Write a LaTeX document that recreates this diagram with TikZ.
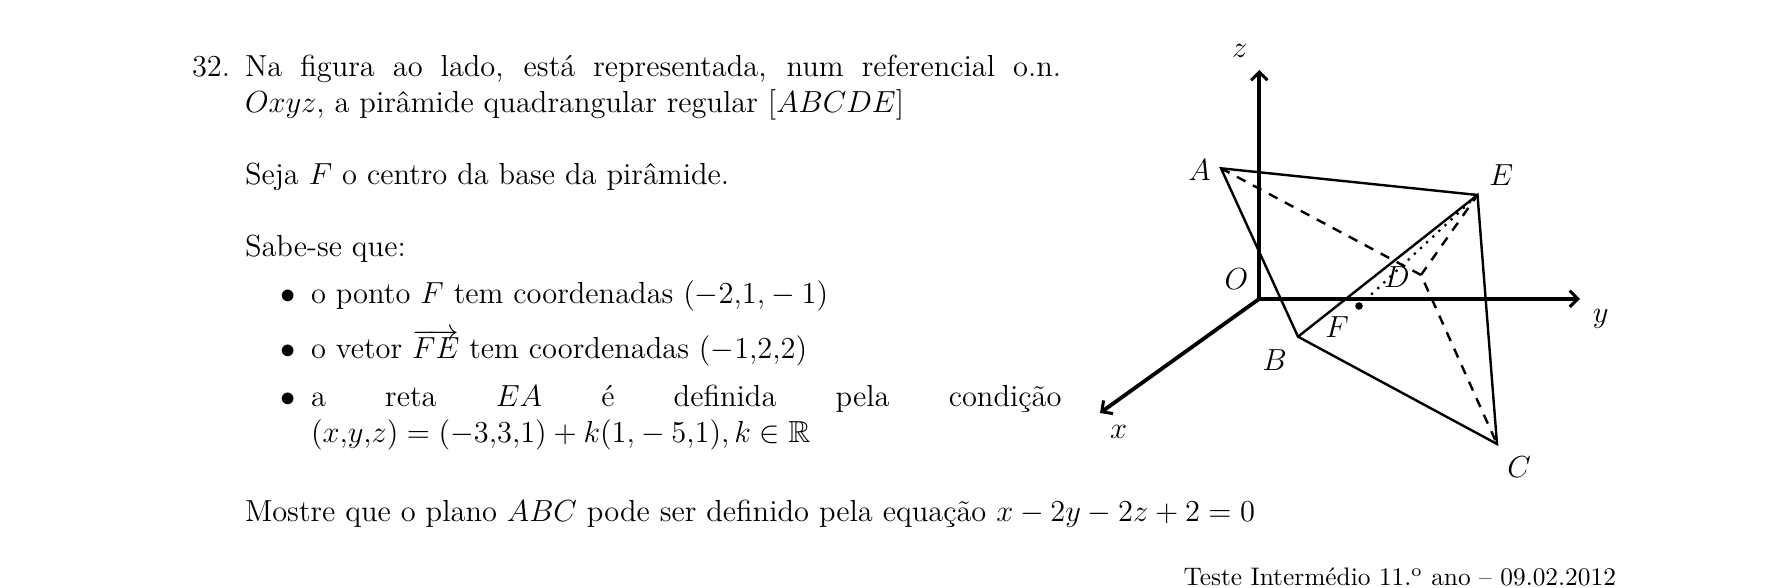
\documentclass[tikz,border=0pt]{standalone}
\usepackage{amssymb}
\usetikzlibrary{arrows.meta}
\tikzset{
  txt/.style={anchor=base west,inner sep=0pt,outer sep=0pt,font=\large},
  lbl/.style={inner sep=0pt,outer sep=0pt,font=\large},
  axisline/.style={line width=1.5pt,-{Straight Barb[length=3.2pt,width=6.4pt,line width=1.2pt]}},
  solidedge/.style={line width=0.95pt,line join=miter},
  hiddenedge/.style={line width=0.95pt,dash pattern=on 3.8pt off 3.33pt},
  hiddenedgegap/.style={line width=0.95pt,dash pattern=on 3.8pt off 3.33pt,dash phase=3.8pt},
  dotedge/.style={line width=0.9pt,dash pattern=on 0.9pt off 2.4pt},
}
\begin{document}
\begin{tikzpicture}[x=0.394pt,y=-0.394pt]
\useasboundingbox (0,0) rectangle (1785,588);
% text
\node[txt] (n32) at (192,77) {32.};
\node[txt] (l1) at (245,77) {\makebox[321.6pt][s]{Na figura ao lado, está representada, num referencial o.n.}};
\node[txt] (l2) at (245,113) {$Oxyz$, a pirâmide quadrangular regular $[ABCDE]$};
\node[txt] (l3) at (245,185) {Seja $F$ o centro da base da pirâmide.};
\node[txt] (l4) at (245,257) {Sabe-se que:};
\node[txt] (b1) at (280,304) {$\bullet$};
\node[txt] (t1) at (311,304) {o ponto $F$ tem coordenadas $(-2{,}1{,}\mkern3.8mu{-}\mkern3.8mu1)$};
\node[txt] (b2) at (280,359) {$\bullet$};
\node[txt] (t2) at (311,359) {o vetor $\overrightarrow{FE}$ tem coordenadas $(-1{,}2{,}2)$};
\node[txt] (b3) at (280,407) {$\bullet$};
\node[txt] (t3) at (311,407) {\makebox[295.7pt][s]{a reta $EA$ é definida pela condição}};
\node[txt] (t4) at (311,443) {$(x{,}y{,}z)=(-3{,}3{,}1)+k(1{,}\mkern3.8mu{-}\mkern3.8mu5{,}1),k\in\mathbb{R}$};
\node[txt] (l5) at (245,521.5) {Mostre que o plano $ABC$ pode ser definido pela equação $x-2y-2z+2=0$};
\node[txt,anchor=base east,font=\normalsize] (foot) at (1616,586) {Teste Intermédio 11.\textsuperscript{o} ano -- 09.02.2012};
% figure points
\coordinate (O) at (1259.3,298.8);
\coordinate (Z) at (1259.3,70);
\coordinate (Y) at (1580,298.8);
\coordinate (X) at (1100,413);
\coordinate (A) at (1221,168.3);
\coordinate (B) at (1298,336.7);
\coordinate (C) at (1497,444);
\coordinate (D) at (1421,275);
\coordinate (E) at (1477.5,195);
\coordinate (F) at (1359,306);
% axes
\draw[axisline] (O) -- (Z);
\draw[axisline] (O) -- (Y);
\draw[axisline] (O) -- (X);
% pyramid
\draw[solidedge] (E) -- (A) -- (B) -- (C) -- (E) -- (B);
\draw[hiddenedge] (A) -- (D);
\draw[hiddenedgegap] (D) -- (C);
\draw[hiddenedge] (D) -- (E);
\draw[dotedge] (F) -- (E);
\fill (F) circle[radius=3.8];
% labels
\node[lbl] (lz) at (1239.6,51) {$z$};
\node[lbl] (ly) at (1600.7,319) {$y$};
\node[lbl] (lx) at (1118.6,432) {$x$};
\node[lbl] (lO) at (1236.4,279) {$O$};
\node[lbl] (lA) at (1199.6,170) {$A$};
\node[lbl] (lB) at (1274.6,360) {$B$};
\node[lbl] (lC) at (1519,467) {$C$};
\node[lbl] (lD) at (1397,276.7) {$D$};
\node[lbl] (lE) at (1501.4,175) {$E$};
\node[lbl] (lF) at (1337,327) {$F$};
\end{tikzpicture}
\end{document}
